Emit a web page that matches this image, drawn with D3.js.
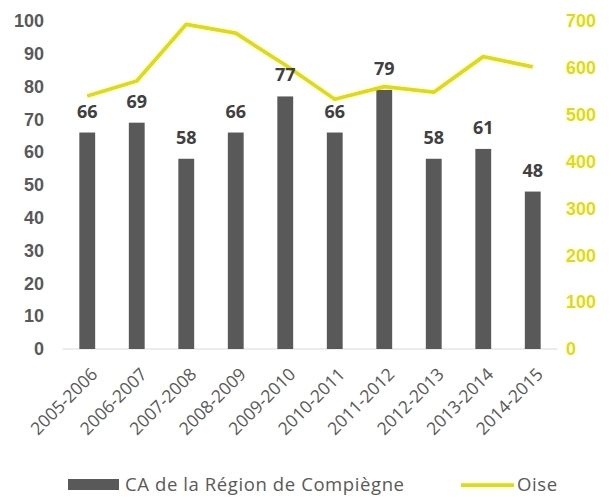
<!DOCTYPE html>
<html>
<head>
<meta charset="utf-8">
<script src="https://cdn.jsdelivr.net/npm/d3@7"></script>
<style>
  body { margin: 0; background: #fff; }
  svg { font-family: "Open Sans", sans-serif; }
</style>
</head>
<body>
<div class="container"></div>
<script>
"use strict";

var width = 611;
var height = 497;

// Data
var seasons = ["2005-2006", "2006-2007", "2007-2008", "2008-2009", "2009-2010",
    "2010-2011", "2011-2012", "2012-2013", "2013-2014", "2014-2015"];
var compiegne = [66, 69, 58, 66, 77, 66, 79, 58, 61, 48];
var oise = [540, 572, 693, 674, 606, 533, 560, 548, 624, 602];
var leftTicks = [0, 10, 20, 30, 40, 50, 60, 70, 80, 90, 100];
var rightTicks = [0, 100, 200, 300, 400, 500, 600, 700];

var barColor = "#595959";
var lineColor = "#E1DD00";
var textColor = "#595959";

var plot = {left: 62.5, right: 557.5, top: 21, bottom: 349};

var x = d3.scaleBand()
    .domain(seasons)
    .range([plot.left, plot.right])
    .paddingInner(0.68)
    .paddingOuter(0.34);

var yLeft = d3.scaleLinear().domain([0, 100]).range([plot.bottom, plot.top]);
var yRight = d3.scaleLinear().domain([0, 700]).range([plot.bottom, plot.top]);

var svg = d3.select(".container").append("svg")
    .attr("width", width)
    .attr("height", height);

// baseline
svg.append("line")
    .attr("x1", plot.left).attr("x2", plot.right)
    .attr("y1", plot.bottom).attr("y2", plot.bottom)
    .attr("stroke", "#d9d9d9")
    .attr("stroke-width", 1);

// left axis
var gLeft = svg.append("g")
    .attr("transform", "translate(44,0)")
    .call(d3.axisLeft(yLeft).tickValues(leftTicks).tickSize(0).tickPadding(0));
gLeft.select(".domain").remove();
gLeft.selectAll("text")
    .attr("fill", textColor)
    .style("font-size", "18px")
    .style("font-weight", "bold");

// right axis
var gRight = svg.append("g")
    .attr("transform", "translate(566,0)")
    .call(d3.axisRight(yRight).tickValues(rightTicks).tickSize(0).tickPadding(0));
gRight.select(".domain").remove();
gRight.selectAll("text")
    .attr("fill", lineColor)
    .style("font-size", "18px")
    .style("font-weight", "bold");

// bars
svg.selectAll(".bar")
    .data(compiegne)
    .enter().append("rect")
    .attr("class", "bar")
    .attr("x", (d, i) => x(seasons[i]))
    .attr("width", x.bandwidth())
    .attr("y", d => yLeft(d))
    .attr("height", d => yLeft(0) - yLeft(d))
    .attr("fill", barColor);

// line
var line = d3.line()
    .x((d, i) => x(seasons[i]) + x.bandwidth() / 2)
    .y(d => yRight(d));

svg.append("path")
    .datum(oise)
    .attr("d", line)
    .attr("fill", "none")
    .attr("stroke", lineColor)
    .attr("stroke-width", 3.75)
    .attr("stroke-linejoin", "round");

// value labels
svg.selectAll(".value")
    .data(compiegne)
    .enter().append("text")
    .attr("class", "value")
    .attr("x", (d, i) => x(seasons[i]) + x.bandwidth() / 2)
    .attr("y", d => yLeft(d) - 15)
    .attr("text-anchor", "middle")
    .attr("fill", "#404040")
    .style("font-size", "18px")
    .style("font-weight", "bold")
    .text(d => d);

// category labels
svg.selectAll(".cat")
    .data(seasons)
    .enter().append("text")
    .attr("class", "cat")
    .attr("transform", d => "translate(" + (x(d) + x.bandwidth() / 2 + 7) + "," + (plot.bottom + 22) + ") rotate(-45)")
    .attr("text-anchor", "end")
    .attr("dy", "0.35em")
    .attr("fill", textColor)
    .style("font-size", "17.5px")
    .text(d => d);

// legend
var legend = svg.append("g");
legend.append("rect")
    .attr("x", 68).attr("y", 479)
    .attr("width", 51).attr("height", 11)
    .attr("fill", barColor);
legend.append("text")
    .attr("x", 125).attr("y", 485)
    .attr("dy", "0.35em")
    .attr("fill", textColor)
    .style("font-size", "18.5px")
    .style("letter-spacing", "0.6px")
    .text("CA de la Région de Compiègne");
legend.append("line")
    .attr("x1", 461).attr("x2", 514)
    .attr("y1", 485).attr("y2", 485)
    .attr("stroke", lineColor)
    .attr("stroke-width", 3.75);
legend.append("text")
    .attr("x", 517).attr("y", 485)
    .attr("dy", "0.35em")
    .attr("fill", textColor)
    .style("font-size", "18.5px")
    .style("letter-spacing", "0.6px")
    .text("Oise");
</script>
</body>
</html>
